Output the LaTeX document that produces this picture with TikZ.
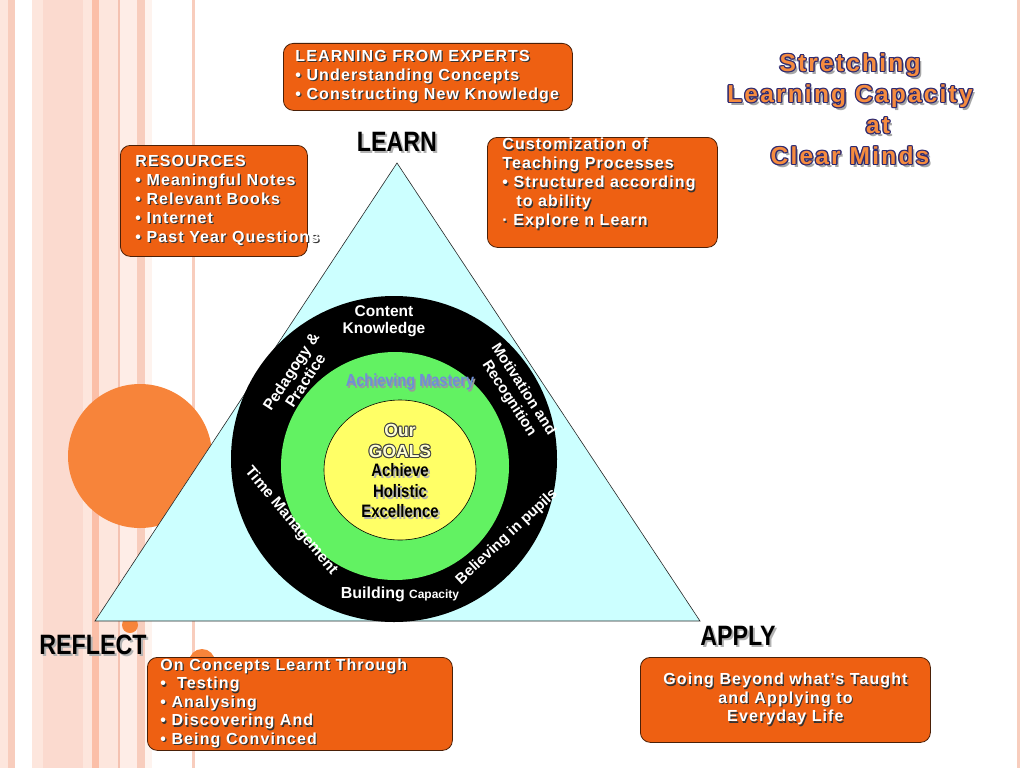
\documentclass[tikz,border=0pt]{standalone}
\usepackage{fontspec}
\setmainfont{Liberation Sans}
\newfontfamily\bx[LetterSpace=7]{Liberation Sans}
\newfontfamily\tf[LetterSpace=9]{Liberation Sans}
\newfontfamily\nar[FakeStretch=0.83]{Liberation Sans}
\newcommand{\bxf}{\bx\bfseries}
\definecolor{boxor}{HTML}{EE6012}
\definecolor{boxedge}{HTML}{4A2008}
\definecolor{tri}{HTML}{CCFFFF}
\definecolor{ringgreen}{HTML}{62F262}
\definecolor{yel}{HTML}{FFFF66}
\definecolor{dotor}{HTML}{F7843A}
\definecolor{titor}{HTML}{F58B3F}
\definecolor{titnavy}{HTML}{2E2A70}
\definecolor{mast}{HTML}{6F8FD6}
\definecolor{pA}{HTML}{FDE6DD}
\definecolor{pB}{HTML}{F8CDBD}
\definecolor{pC}{HTML}{FBDACF}
\definecolor{pD}{HTML}{FBBFA8}
\definecolor{pE}{HTML}{F4C2B1}
\newlength\ow
\newcommand{\cpy}[3]{\rlap{\hspace*{#1}\raisebox{#2}{#3}}}
\newcommand{\sh}[1]{\leavevmode\cpy{1.2pt}{-1.2pt}{\color{black!80}#1}\mbox{#1}}
\newcommand{\lsh}[1]{\leavevmode\cpy{2pt}{-2pt}{\color{black!30}#1}\mbox{#1}}
\newcommand{\outl}[3]{\leavevmode
 \cpy{\ow}{0pt}{\color{#1}#3}\cpy{-\ow}{0pt}{\color{#1}#3}%
 \cpy{0pt}{\ow}{\color{#1}#3}\cpy{0pt}{-\ow}{\color{#1}#3}%
 \cpy{0.7\ow}{0.7\ow}{\color{#1}#3}\cpy{-0.7\ow}{0.7\ow}{\color{#1}#3}%
 \cpy{0.7\ow}{-0.7\ow}{\color{#1}#3}\cpy{-0.7\ow}{-0.7\ow}{\color{#1}#3}%
 \mbox{\color{#2}#3}}
\newcommand{\titl}[1]{\leavevmode\cpy{2.5pt}{-2.5pt}{\color{black!35}#1}\outl{titnavy}{titor}{#1}}
\tikzset{
 obox/.style={draw=boxedge, line width=0.8pt, fill=boxor, rounded corners=10pt,
   inner ysep=0pt, anchor=north west, text=white, font=\bxf},
 lbl/.style={font=\nar\bfseries\fontsize{28}{28}\selectfont, text=black, inner sep=0pt},
 ring/.style={font=\bfseries\fontsize{15.5}{17}\selectfont, text=white, align=center, inner sep=0pt}
}
\begin{document}
\begin{tikzpicture}[x=1pt,y=-1pt]
\useasboundingbox (0,0) rectangle (1024,768);
% background stripes
\fill[pA] (0,0) rectangle (8,768);
\fill[pB] (8,0) rectangle (15,768);
\fill[pA] (32,0) rectangle (43,768);
\fill[pC] (43,0) rectangle (83,768);
\fill[pA] (83,0) rectangle (92,768);
\fill[pD] (92,0) rectangle (99,768);
\fill[pA] (99,0) rectangle (118,768);
\fill[pE] (118,0) rectangle (120,768);
\fill[pA!70] (120,0) rectangle (137,768);
\fill[pB] (137,0) rectangle (145,768);
\fill[pA!50] (145,0) rectangle (152,768);
\fill[pB] (192,0) rectangle (195,768);
\fill[pB] (1017,0) rectangle (1020,768);
% decorative dots
\fill[dotor] (140,456) circle (72);
\fill[dotor] (130,625) circle (8);
\fill[dotor] (202,662) circle (13);
% triangle
\coordinate (tA) at (397,163);
\coordinate (tB) at (700,621);
\coordinate (tC) at (95,621);
\draw[fill=tri, draw=black!85, line width=0.6pt] (tA) -- (tB) -- (tC) -- cycle;
% rings
\node[circle, fill=black, minimum size=326pt, inner sep=0pt] (outer) at (394,459) {};
\node[circle, fill=ringgreen, minimum size=228pt, inner sep=0pt] (middle) at (395,466) {};
\draw[fill=yel, draw=black, line width=0.6pt] (400,470) ellipse [x radius=76, y radius=70];
\coordinate (inner) at (400,470);
% ring texts
\node[ring] (content) at (384,321) {Content\\Knowledge};
\node[ring, rotate=57] (pedag) at (298,376) {Pedagogy \&\\Practice};
\node[ring, rotate=-57, font=\bfseries\fontsize{15}{17}\selectfont] (motiv) at (516,394) {Motivation and\\Recognition};
\node[ring, rotate=-50] (time) at (291,521) {Time Management};
\node[ring, rotate=43, font=\bfseries\fontsize{15}{17}\selectfont] (believ) at (507,537) {Believing in pupils};
\node[ring] (build) at (400,594) {{\fontsize{16}{16}\selectfont Building} {\fontsize{12}{16}\selectfont Capacity}};
\node[font=\nar\bfseries\fontsize{17.5}{20}\selectfont, inner sep=0pt] (mastery) at (410,383)
  {\leavevmode\cpy{1.5pt}{-1.5pt}{\color{black!40}Achieving Mastery}\mbox{\color{mast}Achieving Mastery}};
\setlength\ow{1pt}
\node[font=\bfseries\fontsize{17.5}{21}\selectfont, align=center, inner sep=0pt] (goals) at (400,441)
  {\outl{black!75}{yel!30}{Our}\\\outl{black!75}{yel!30}{GOALS}};
\node[font=\nar\bfseries\fontsize{18}{20.5}\selectfont, align=center, inner sep=0pt] (achieve) at (400,492)
  {\lsh{Achieve}\\\lsh{Holistic}\\\lsh{Excellence}};
% labels
\node[lbl] (learn) at (397,143) {\lsh{LEARN}};
\node[lbl] (reflect) at (93,646) {\lsh{REFLECT}};
\node[lbl] (apply) at (738,637) {\lsh{APPLY}};
% boxes
\node[obox, inner xsep=12pt] (experts) at (283,43)
 {\parbox[c][67pt][c]{265pt}{\fontsize{16}{19}\selectfont\raggedright
  \sh{LEARNING FROM EXPERTS}\\\sh{• Understanding Concepts}\\\sh{• Constructing New Knowledge}}};
\node[obox, inner xsep=15pt] (resources) at (120,145)
 {\parbox[c][111pt][c]{157pt}{\fontsize{16}{19}\selectfont\raggedright
  \sh{RESOURCES}\\\sh{• Meaningful Notes}\\\sh{• Relevant Books}\\\sh{• Internet}\\\sh{• Past Year Questions}}};
\node[obox, inner xsep=15pt] (custom) at (487,137)
 {\parbox[c][110pt][t]{200pt}{\fontsize{16}{19}\selectfont\raggedright\vspace*{1pt}
  \sh{Customization of}\\\sh{Teaching Processes}\\\sh{• Structured according}\\\hspace*{14pt}\sh{to ability}\\\sh{· Explore n Learn}}};
\node[obox, inner xsep=13pt] (reflbox) at (147,657)
 {\parbox[c][93pt][c]{279pt}{\fontsize{16}{18.5}\selectfont\raggedright
  \sh{On Concepts Learnt Through}\\\sh{•\ \ Testing}\\\sh{• Analysing}\\\sh{• Discovering And}\\\sh{• Being Convinced}}};
\node[obox, inner xsep=12pt] (applybox) at (640,657)
 {\parbox[c][85pt][c]{266pt}{\fontsize{16}{18.5}\selectfont\centering
  \sh{Going Beyond what’s Taught}\\\sh{and Applying to}\\\sh{Everyday Life}}};
% title
\setlength\ow{1.3pt}
\node[font=\tf\bfseries\fontsize{24.5}{31}\selectfont, align=center, inner sep=0pt] (title) at (850,110)
 {\titl{Stretching}\\\titl{Learning Capacity}\\\hspace*{56pt}\titl{at}\\\titl{Clear Minds}};
\end{tikzpicture}
\end{document}
